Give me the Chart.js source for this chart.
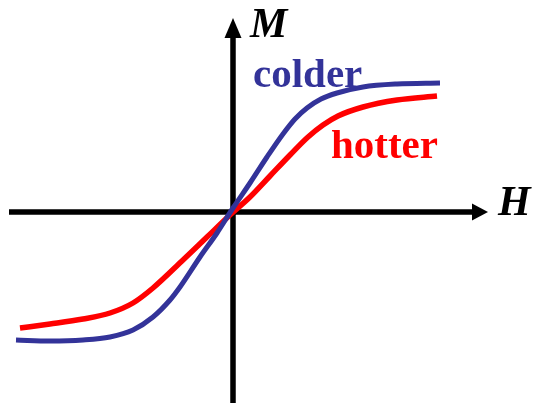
<!DOCTYPE html>
<html>
<head>
<meta charset="utf-8">
<script src="https://cdn.jsdelivr.net/npm/chart.js@4/dist/chart.umd.min.js"></script>
<style>
  html, body { margin: 0; padding: 0; background: #fff; }
  canvas { display: block; }
</style>
</head>
<body>
<canvas id="mh" width="537" height="403"></canvas>
<script>
// Magnetization M vs field H (arbitrary units)
const coldH = [-2.17, -1.83, -1.50, -1.23, -1.00, -0.80, -0.63, -0.53, -0.33, -0.16, 0.00, 0.17, 0.34, 0.50, 0.62, 0.74, 0.88, 1.04, 1.30, 1.64, 2.07];
const coldM = [-1.28, -1.29, -1.28, -1.25, -1.18, -1.05, -0.88, -0.75, -0.45, -0.21, 0.04, 0.29, 0.55, 0.78, 0.93, 1.04, 1.13, 1.19, 1.25, 1.28, 1.29];
const hotH = [-2.13, -1.83, -1.50, -1.23, -1.00, -0.80, -0.50, -0.26, -0.03, 0.17, 0.37, 0.57, 0.75, 0.90, 1.05, 1.30, 1.64, 2.04];
const hotM = [-1.16, -1.12, -1.07, -1.01, -0.91, -0.76, -0.48, -0.25, -0.03, 0.15, 0.36, 0.57, 0.75, 0.87, 0.96, 1.05, 1.12, 1.16];

const toPoints = (xs, ys) => xs.map((x, i) => ({ x: x, y: ys[i] }));

// Arrowed axes through the origin, plus the text labels
const sketchAxes = {
    id: 'sketchAxes',
    beforeDatasetsDraw(chart) {
        const { ctx, scales: { x, y } } = chart;
        const x0 = x.getPixelForValue(0);
        const y0 = y.getPixelForValue(0);
        const left = x.getPixelForValue(-2.24);
        const right = x.getPixelForValue(2.55);
        const bottom = y.getPixelForValue(-1.91);
        const top = y.getPixelForValue(1.94);
        ctx.save();
        ctx.strokeStyle = '#000';
        ctx.fillStyle = '#000';
        ctx.lineWidth = 5.5;
        ctx.beginPath();
        ctx.moveTo(left, y0);
        ctx.lineTo(right - 14, y0);
        ctx.moveTo(x0, bottom);
        ctx.lineTo(x0, top + 18);
        ctx.stroke();
        // arrow heads
        ctx.beginPath();
        ctx.moveTo(right, y0);
        ctx.lineTo(right - 16, y0 - 8.5);
        ctx.lineTo(right - 16, y0 + 8.5);
        ctx.closePath();
        ctx.fill();
        ctx.beginPath();
        ctx.moveTo(x0, top);
        ctx.lineTo(x0 - 8.5, top + 20);
        ctx.lineTo(x0 + 8.5, top + 20);
        ctx.closePath();
        ctx.fill();
        ctx.restore();
    },
    afterDatasetsDraw(chart) {
        const { ctx, scales: { x, y } } = chart;
        ctx.save();
        ctx.textBaseline = 'alphabetic';
        ctx.textAlign = 'left';
        ctx.font = 'italic bold 42px "Liberation Serif", "Times New Roman", serif';
        ctx.fillStyle = '#000';
        ctx.fillText('M', x.getPixelForValue(0.17), y.getPixelForValue(1.75));
        ctx.fillText('H', x.getPixelForValue(2.65), y.getPixelForValue(-0.03));
        ctx.font = 'bold 41px "Liberation Serif", "Times New Roman", serif';
        ctx.fillStyle = '#333399';
        ctx.fillText('colder', x.getPixelForValue(0.20), y.getPixelForValue(1.25));
        ctx.fillStyle = '#ff0000';
        ctx.fillText('hotter', x.getPixelForValue(0.98), y.getPixelForValue(0.54));
        ctx.restore();
    }
};

new Chart(document.getElementById('mh'), {
    type: 'line',
    data: {
        datasets: [
            {
                label: 'colder',
                data: toPoints(coldH, coldM),
                borderColor: '#333399',
                borderWidth: 5,
                cubicInterpolationMode: 'monotone',
                pointRadius: 0,
                fill: false
            },
            {
                label: 'hotter',
                data: toPoints(hotH, hotM),
                borderColor: '#ff0000',
                borderWidth: 5.5,
                cubicInterpolationMode: 'monotone',
                pointRadius: 0,
                fill: false
            }
        ]
    },
    options: {
        responsive: false,
        animation: false,
        layout: { padding: 0 },
        plugins: {
            legend: { display: false },
            tooltip: { enabled: false },
            title: { display: false }
        },
        scales: {
            x: { type: 'linear', min: -2.33, max: 3.04, display: false },
            y: { type: 'linear', min: -1.91, max: 2.12, display: false }
        }
    },
    plugins: [sketchAxes]
});
</script>
</body>
</html>
